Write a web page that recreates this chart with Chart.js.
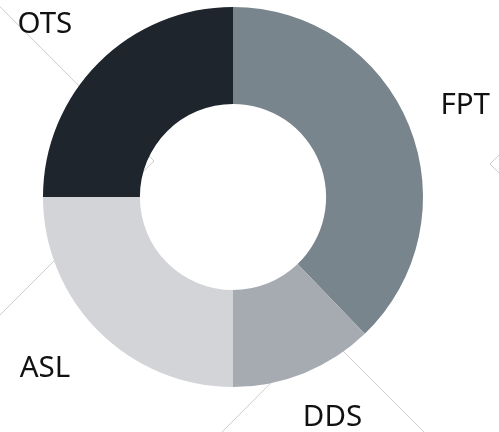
<!DOCTYPE html>
<html>
<head>
<meta charset="utf-8">
<script src="https://cdn.jsdelivr.net/npm/chart.js@4"></script>
<style>
  html, body { margin: 0; padding: 0; background: #ffffff; }
  #wrap { position: relative; width: 499px; height: 432px; overflow: hidden; }
  #deco { position: absolute; left: 0; top: 0; }
  #c { position: absolute; left: 0; top: 0; }
</style>
</head>
<body>
<div id="wrap">
  <svg id="deco" width="499" height="432" viewBox="0 0 499 432">
    <g fill="none" stroke="#cdcdcd" stroke-width="1">
      <polyline points="-1,5.7 154,161 -1,316"/>
      <polyline points="220.5,433.5 322.75,330.75 425.5,433.5"/>
      <polyline points="500,154 490,164 500,174"/>
    </g>
  </svg>
  <canvas id="c" width="499" height="432"></canvas>
</div>
<script>
// Data
const categories = ["FPT", "DDS", "ASL", "OTS"];
const shares = [37.8, 12.2, 25, 25];
const colors = ["#78858c", "#a6aab1", "#d2d4d7", "#1f252d"];

const outLabels = {
  id: 'outLabels',
  afterDatasetsDraw(chart) {
    const ctx = chart.ctx;
    const meta = chart.getDatasetMeta(0);
    const W = chart.width, H = chart.height;
    ctx.save();
    ctx.font = '29.5px "Noto Sans"';
    ctx.fillStyle = '#111111';
    ctx.textAlign = 'center';
    ctx.textBaseline = 'middle';
    meta.data.forEach((arc, i) => {
      const p = arc.getProps(['x', 'y', 'startAngle', 'endAngle', 'outerRadius'], true);
      const mid = (p.startAngle + p.endAngle) / 2;
      const rx = p.outerRadius * 1.4;
      const ry = p.outerRadius * 1.28;
      let x = p.x + Math.cos(mid) * rx;
      let y = p.y + Math.sin(mid) * ry;
      const label = chart.data.labels[i];
      const w = ctx.measureText(label).width;
      const margin = 9;
      x = Math.min(Math.max(x, margin + w / 2), W - margin - w / 2);
      y = Math.min(Math.max(y, 14), H - 14);
      ctx.fillText(label, x, y);
    });
    ctx.restore();
  }
};

new Chart(document.getElementById('c'), {
  type: 'doughnut',
  data: {
    labels: categories,
    datasets: [{
      data: shares,
      backgroundColor: colors,
      borderWidth: 0,
      hoverOffset: 0
    }]
  },
  options: {
    responsive: false,
    animation: false,
    cutout: '49%',
    layout: { padding: { left: 43, right: 76, top: 7, bottom: 45 } },
    plugins: {
      legend: { display: false },
      tooltip: { enabled: false }
    }
  },
  plugins: [outLabels]
});
</script>
</body>
</html>
